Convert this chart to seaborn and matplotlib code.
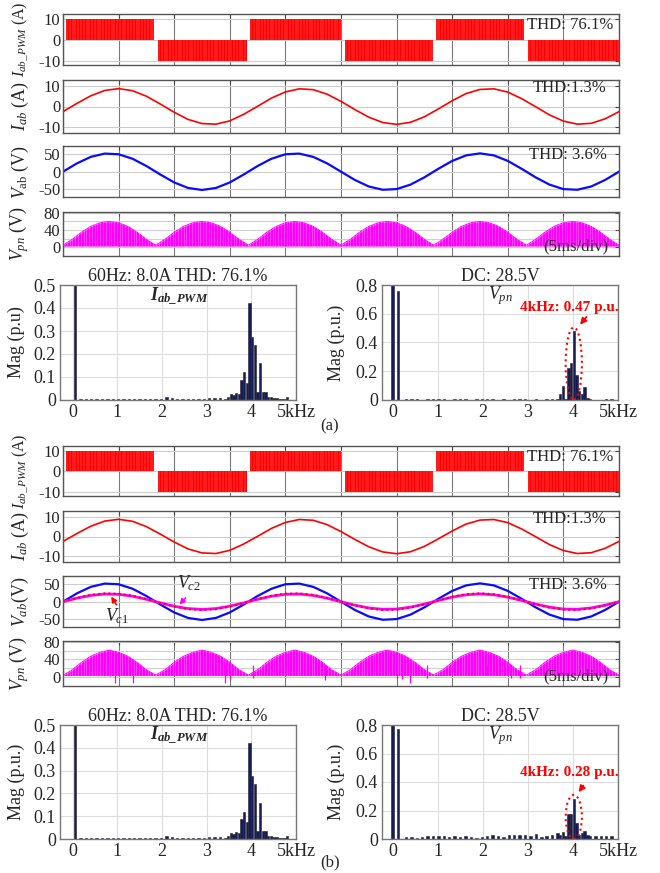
import numpy as np
import matplotlib
matplotlib.use("Agg")
import matplotlib.pyplot as plt
import seaborn as sns
from matplotlib.patches import Ellipse

sns.set_style("white")
plt.rcParams['font.family'] = ['Liberation Serif', 'DejaVu Serif']
plt.rcParams['mathtext.fontset'] = 'custom'
plt.rcParams['mathtext.rm'] = 'Liberation Serif'
plt.rcParams['mathtext.it'] = 'Liberation Serif:italic'
plt.rcParams['mathtext.bf'] = 'Liberation Serif:italic:bold'

# ---------------- time domain (ms), 5 ms/div ----------------
t_step = 1.25
i_ab = [-2.5, 1.5, 5.2, 7.8, 8.7, 7.7, 5.0, 1.2, -2.8, -6.3, -8.3, -8.6, -7.0, -3.8,
        0.1, 4.1, 7.1, 8.6, 8.2, 6.0, 2.5, -1.5, -5.2, -7.8, -8.7, -7.7, -5.0, -1.2,
        2.8, 6.3, 8.3, 8.6, 7.0, 3.8, -0.1, -4.1, -7.1, -8.6, -8.2, -6.0, -2.5]
v_ab = [0, 23.6, 42.1, 51.4, 49.5, 36.8, 16.1, -8.1, -30.6, -46.3, -52, -46.3, -30.6, -8.1,
        16.1, 36.8, 49.5, 51.4, 42.1, 23.6, 0, -23.6, -42.1, -51.4, -49.5, -36.8, -16.1, 8.1,
        30.6, 46.3, 52, 46.3, 30.6, 8.1, -16.1, -36.8, -49.5, -51.4, -42.1, -23.6, 0]
v_c1 = [0, 10.9, 19.4, 23.7, 22.8, 17.0, 7.4, -3.7, -14.1, -21.4, -24, -21.4, -14.1, -3.7,
        7.4, 17.0, 22.8, 23.7, 19.4, 10.9, 0, -10.9, -19.4, -23.7, -22.8, -17.0, -7.4, 3.7,
        14.1, 21.4, 24, 21.4, 14.1, 3.7, -7.4, -17.0, -22.8, -23.7, -19.4, -10.9, 0]
v_c2 = [0, 10.0, 17.8, 21.7, 20.9, 15.6, 6.8, -3.4, -12.9, -19.6, -22, -19.6, -12.9, -3.4,
        6.8, 15.6, 20.9, 21.7, 17.8, 10.0, 0, -10.0, -17.8, -21.7, -20.9, -15.6, -6.8, 3.4,
        12.9, 19.6, 22, 19.6, 12.9, 3.4, -6.8, -15.6, -20.9, -21.7, -17.8, -10.0, 0]

pn_step = 50 / 60
v_pn_env_a = [5, 18.5, 35, 48.5, 57, 60, 57, 48.5, 35, 18.5,
              5, 18.5, 35, 48.5, 57, 60, 57, 48.5, 35, 18.5,
              5, 18.5, 35, 48.5, 57, 60, 57, 48.5, 35, 18.5,
              5, 18.5, 35, 48.5, 57, 60, 57, 48.5, 35, 18.5,
              5, 18.5, 35, 48.5, 57, 60, 57, 48.5, 35, 18.5,
              5, 18.5, 35, 48.5, 57, 60, 57, 48.5, 35, 18.5, 5]
v_pn_env_b = [3, 16, 33, 47, 56, 61, 56, 47, 33, 16,
              4, 16, 33, 47, 56, 61, 56, 47, 33, 16,
              4, 16, 33, 47, 56, 61, 56, 47, 33, 16,
              4, 16, 33, 47, 56, 61, 56, 47, 33, 16,
              4, 16, 33, 47, 56, 61, 56, 47, 33, 16,
              4, 16, 33, 47, 56, 61, 56, 47, 33, 16, 4]
spike_t = [4.2, 4.7, 6.3, 11.7, 14.6, 15.0, 17.1, 23.6, 30.0, 30.5, 31.2, 32.7, 38.1, 38.4, 40.3, 41.1]
spike_low = [2, -14, -14, 5, -15, -6, -2, -8, -2, -6, -14, -2, 5, 5, -2, -2]

# PWM current blocks: start, end, level
pwm_start = [0.27, 8.54, 16.82, 25.36, 33.5, 41.8]
pwm_end = [8.18, 16.55, 25.0, 33.3, 41.5, 50.0]
pwm_level = [10, -10, 10, -10, 10, -10]

# ---------------- spectra (kHz, p.u.) ----------------
ipwm_f = ([0.06] + list(np.round(0.18 + 0.12 * np.arange(28), 2))
          + list(np.round(3.48 + 0.06 * np.arange(23), 2)))
ipwm_m = ([1.0]
          + [0.006, 0.006, 0.005, 0.005, 0.006, 0.005, 0.006, 0.004, 0.003, 0.003, 0.005, 0.004,
             0.005, 0.004, 0.003, 0.005, 0.012, 0.007, 0.005, 0.004, 0.006, 0.005, 0.006, 0.005,
             0.010, 0.008, 0.008, 0.006]
          + [0.015, 0.025, 0.022, 0.03, 0.028, 0.087, 0.12, 0.075, 0.42, 0.275, 0.24, 0.035,
             0.16, 0.035, 0.035, 0.015, 0.012, 0.01, 0.008, 0.006, 0.006, 0.005, 0.012])

vpn_f = ([0.0, 0.12] + list(np.round(0.30 + 0.12 * np.arange(28), 2))
         + list(np.round(3.66 + 0.06 * np.arange(13), 2))
         + [4.50, 4.62, 4.74, 4.86])
vpn_m_a = ([1.0, 0.755]
           + [0.010, 0.008, 0.004, 0.003, 0.004, 0.006, 0.006, 0.004, 0.003, 0.004, 0.006, 0.004,
              0.003, 0.005, 0.008, 0.004, 0.006, 0.003, 0.004, 0.003, 0.006, 0.004, 0.004, 0.003,
              0.006, 0.003, 0.004, 0.005]
           + [0.005, 0.044, 0.10, 0.005, 0.22, 0.26, 0.48, 0.175, 0.065, 0.045, 0.09, 0.012, 0.008]
           + [0.003, 0.003, 0.004, 0.006])
vpn_m_b = ([1.0, 0.77]
           + [0.012, 0.012, 0.010, 0.015, 0.020, 0.022, 0.020, 0.018, 0.016, 0.018, 0.015, 0.020,
              0.016, 0.010, 0.015, 0.020, 0.025, 0.018, 0.012, 0.025, 0.028, 0.030, 0.030, 0.022,
              0.035, 0.015, 0.022, 0.025]
           + [0.04, 0.025, 0.046, 0.02, 0.174, 0.178, 0.28, 0.11, 0.028, 0.045, 0.058, 0.03, 0.02]
           + [0.02, 0.018, 0.02, 0.02])

W, H = 660, 873
fig = plt.figure(figsize=(W / 100, H / 100), dpi=100)

RED, BLUE, MAG = '#ff0000', '#0a0aff', '#ff00ff'


def px_rect(l, t, r, b):
    return [l / W, 1 - b / H, (r - l) / W, (b - t) / H]


def wave_axes(box, ylim, yticks, ylabel, minor=None, lab_size=13):
    ax = fig.add_axes(px_rect(*box))
    ax.set_xlim(0, 50)
    ax.set_ylim(ylim)
    ax.set_xticks(np.arange(0, 51, 5))
    ax.set_xticklabels([])
    ax.set_yticks(yticks)
    ax.set_yticklabels([str(v) for v in yticks])
    if minor is not None:
        ax.set_yticks(minor, minor=True)
    ax.set_axisbelow(True)
    ax.grid(axis='x', color='#7a7a7a', lw=0.8)
    ax.grid(axis='y', which='both', color='#cccccc', lw=0.8)
    ax.tick_params(direction='in', top=True, right=True, length=3, width=0.8,
                   color='#444444', labelsize=12, pad=2)
    ax.tick_params(which='minor', length=0)
    for s in ax.spines.values():
        s.set_color('#555555')
        s.set_linewidth(1.0)
    ax.set_ylabel(ylabel, fontsize=lab_size, labelpad=0)
    ax.yaxis.set_label_coords(-0.058, 0.5)
    return ax


def draw_pwm(ax):
    for a, b, lv in zip(pwm_start, pwm_end, pwm_level):
        ax.fill_between([a, b], [0, 0], [lv, lv], color=RED, lw=0)
        ax.vlines(np.arange(a + 0.1, b, 0.25), 0, lv, color='white', lw=0.35, alpha=0.45)


def draw_vpn(ax, env, spikes=False):
    tp = np.arange(len(env)) * pn_step
    ax.fill_between(tp, 3, env, color=MAG, lw=0)
    sns.lineplot(x=tp, y=env, color=MAG, lw=0.8, ax=ax)
    tv = np.arange(0.1, 50, 0.25)
    ax.vlines(tv, 3, 62, color='white', lw=0.4, alpha=0.45)
    if spikes:
        ax.vlines(spike_t, spike_low, 28, color=MAG, lw=0.9)


def wave_block(top_boxes, b_panel):
    t = np.arange(len(i_ab)) * t_step
    ax1 = wave_axes(top_boxes[0], (-12, 12.4), [-10, 0, 10], r'$I_{ab\_PWM}$ (A)', lab_size=11.5)
    draw_pwm(ax1)
    ax1.text(0.989, 0.78, 'THD: 76.1%', transform=ax1.transAxes, ha='right', va='center', fontsize=12)

    ax2 = wave_axes(top_boxes[1], (-12.9, 12.9), [-10, 0, 10], r'$I_{ab}$ (A)')
    sns.lineplot(x=t, y=i_ab, color=RED, lw=1.2, ax=ax2)
    ax2.text(0.977, 0.84, 'THD:1.3%', transform=ax2.transAxes, ha='right', va='center', fontsize=12)

    lab3 = r'$V_{ab}$(V)' if b_panel else r'$V_{\rm ab}$ (V)'
    ax3 = wave_axes(top_boxes[2], (-72, 73), [-50, 0, 50], lab3)
    sns.lineplot(x=t, y=v_ab, color=BLUE, lw=1.6, ax=ax3)
    if b_panel:
        sns.lineplot(x=t, y=v_c2, color=MAG, lw=2.0, ax=ax3)
        sns.lineplot(x=t, y=v_c1, color=RED, lw=1.4, linestyle=':', ax=ax3)
        ax3.text(11.3, 53, r'$V_{c2}$', ha='center', va='center', fontsize=13)
        ax3.annotate('', xy=(10.3, -14), xytext=(11.2, 17),
                     arrowprops=dict(arrowstyle='-|>', color=MAG, lw=1.1, mutation_scale=8))
        ax3.text(4.9, -42, r'$V_{c1}$', ha='center', va='center', fontsize=13)
        ax3.annotate('', xy=(4.2, 21), xytext=(4.95, -16),
                     arrowprops=dict(arrowstyle='-|>', color=RED, lw=1.1, mutation_scale=8))
    ax3.text(0.978, 0.82, 'THD: 3.6%', transform=ax3.transAxes, ha='right', va='center', fontsize=12)

    ylim4 = (-21, 82) if b_panel else (-20, 82)
    ax4 = wave_axes(top_boxes[3], ylim4, [0, 40, 80], r'$V_{pn}$ (V)', minor=[20, 60])
    draw_vpn(ax4, v_pn_env_b if b_panel else v_pn_env_a, spikes=b_panel)
    ax4.text(0.98, 0.22, '(5ms/div)', transform=ax4.transAxes, ha='right', va='center', fontsize=12)
    for ax in (ax1, ax2, ax3, ax4):
        ax.set_xlabel('')


def spectrum(box, freqs, mags, xlim, ylim, yticks, yticklabels, ylabel, title, lab_x=-0.15):
    ax = fig.add_axes(px_rect(*box))
    sns.barplot(x=freqs, y=mags, native_scale=True, orient='x', errorbar=None,
                color='#161b5e', saturation=1, edgecolor='#222222', linewidth=0.4,
                width=0.9, ax=ax)
    ax.set_xlim(xlim)
    ax.set_ylim(ylim)
    ax.set_xticks([0, 1, 2, 3, 4, 5])
    ax.set_xticklabels(['0', '1', '2', '3', '4', '5kHz'])
    ax.set_yticks(yticks)
    ax.set_yticklabels(yticklabels)
    ax.set_axisbelow(True)
    ax.grid(True, color='#dddddd', lw=0.8)
    ax.tick_params(length=0, labelsize=13, pad=3)
    for s in ax.spines.values():
        s.set_color('#777777')
        s.set_linewidth(1.0)
    ax.set_xlabel('')
    ax.set_ylabel(ylabel, fontsize=13)
    ax.yaxis.set_label_coords(lab_x, 0.5)
    ax.set_title(title, fontsize=13, pad=3)
    return ax


def spectra_block(y0, y1, vpn_m, callout, cx, cy, ch, txt_y, tail, head, left_lab):
    axl = spectrum((60, y0, 296, y1), ipwm_f, ipwm_m, (-0.28, 5.0), (0, 0.5),
                   [0, 0.1, 0.2, 0.3, 0.4, 0.5], ['0', '0.1', '0.2', '0.3', '0.4', '0.5'],
                   left_lab, '60Hz: 8.0A THD: 76.1%', lab_x=-0.148)
    axl.text(2.4, 0.9, r'$\mathbf{I_{ab\_PWM}}$', transform=axl.get_xaxis_transform(),
             ha='center', va='center', fontsize=13)
    axr = spectrum((382, y0, 618, y1), vpn_f, vpn_m, (-0.23, 5.0), (0, 0.8),
                   [0, 0.2, 0.4, 0.6, 0.8], ['0', '0.2', '0.4', '0.6', '0.8'],
                   'Mag (p.u.)', 'DC: 28.5V', lab_x=-0.157)
    axr.text(2.39, 0.91, r'$V_{pn}$', transform=axr.get_xaxis_transform(),
             ha='center', va='center', fontsize=13)
    axr.text(3.92, txt_y, callout, color=RED, fontweight='bold', ha='center', va='center', fontsize=11)
    axr.add_patch(Ellipse((cx, cy), 0.36, ch, fill=False, edgecolor=RED, lw=1.5, ls=':'))
    axr.annotate('', xy=head, xytext=tail,
                 arrowprops=dict(arrowstyle='-|>', color=RED, lw=1.3, mutation_scale=9))


wave_block([(63, 14, 619, 65), (63, 80, 619, 133), (63, 146, 619, 197), (63, 212, 619, 256)], False)
spectra_block(285, 400, vpn_m_a, '4kHz: 0.47 p.u.', 4.02, 0.255, 0.5, 0.64,
              (4.34, 0.593), (4.12, 0.509), 'Mag (p.u)')
fig.text(330 / W, 1 - 426 / H, '(a)', ha='center', va='center', fontsize=12)

wave_block([(63, 446, 619, 496), (63, 511, 619, 562), (63, 576, 619, 627), (63, 641, 619, 686)], True)
spectra_block(725, 839, vpn_m_b, '4kHz: 0.28 p.u.', 4.02, 0.155, 0.31, 0.466,
              (4.27, 0.39), (4.09, 0.313), 'Mag (p.u.)')
fig.text(330 / W, 1 - 862 / H, '(b)', ha='center', va='center', fontsize=12)

fig.savefig('out.png', dpi=100)
